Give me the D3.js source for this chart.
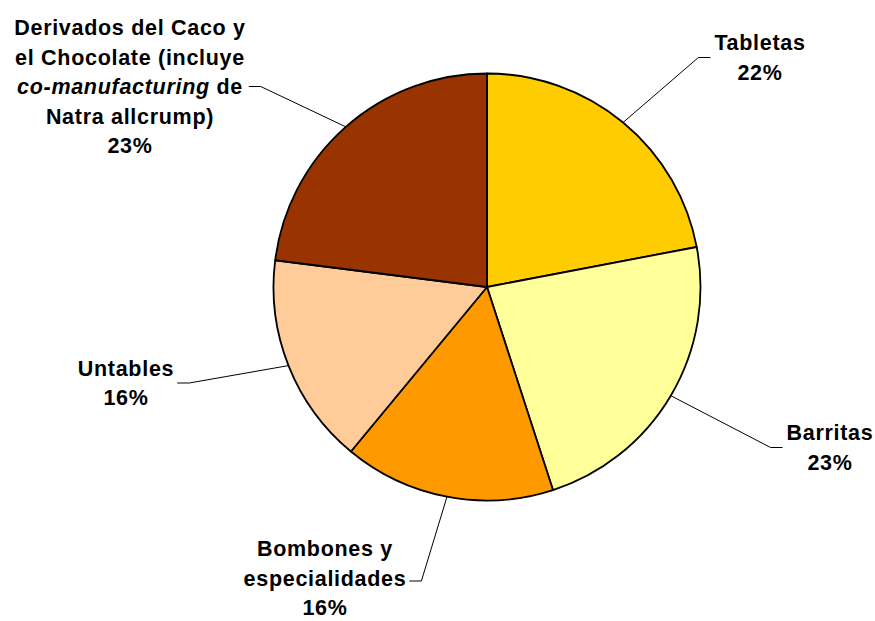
<!DOCTYPE html>
<html>
<head>
<meta charset="utf-8">
<script src="https://cdn.jsdelivr.net/npm/d3@7"></script>
<style>
  body { margin: 0; background: #fff; }
  svg { display: block; }
  text { font-family: "Liberation Sans", Arial, sans-serif; font-weight: bold; fill: #000; }
</style>
</head>
<body>
<svg id="chart" width="875" height="621"></svg>
<script>
// Sales mix by product line (%)
const categories = [
  "Tabletas",
  "Barritas",
  "Bombones y especialidades",
  "Untables",
  "Derivados del Caco y el Chocolate (incluye co-manufacturing de Natra allcrump)"
];
const shares = [22, 23, 16, 16, 23];

// Label text broken into lines; *...* marks italic runs
const labelLines = [
  ["Tabletas"],
  ["Barritas"],
  ["Bombones y", "especialidades"],
  ["Untables"],
  ["Derivados del Caco y", "el Chocolate (incluye", "*co-manufacturing* de", "Natra allcrump)"]
];

const sliceColors = ["#FFCC00", "#FFFF99", "#FF9900", "#FFCC99", "#993300"];

// Centre of each label block
const labelAnchors = [[760, 57.5], [830, 447.5], [325, 578], [126, 383], [130, 86.5]];

const cx = 487, cy = 287, radius = 213.5;
const fontSize = 21.5, lineHeight = 29.5, letterSpacing = 0.7;
const capMid = fontSize * 0.716 / 2;

const svg = d3.select("#chart");
const g = svg.append("g").attr("transform", `translate(${cx},${cy})`);

const pie = d3.pie().sort(null).value(d => d.value).startAngle(0).endAngle(2 * Math.PI);
const arcs = pie(categories.map((c, i) => ({ name: c, value: shares[i], i })));

const arc = d3.arc().innerRadius(0).outerRadius(radius);
const edgeArc = d3.arc().innerRadius(radius).outerRadius(radius);

g.selectAll("path.slice")
  .data(arcs)
  .join("path")
  .attr("class", "slice")
  .attr("d", arc)
  .attr("fill", d => sliceColors[d.data.i])
  .attr("stroke", "#000")
  .attr("stroke-width", 1.8)
  .attr("stroke-linejoin", "round");

// Labels
const labels = svg.append("g");
arcs.forEach(d => {
  const i = d.data.i;
  const lines = labelLines[i].concat([`${shares[i]}%`]);
  const [ax, ay] = labelAnchors[i];
  const n = lines.length;
  const t = labels.append("text")
    .attr("text-anchor", "middle")
    .attr("font-size", fontSize)
    .attr("letter-spacing", letterSpacing);
  lines.forEach((line, k) => {
    const y = ay - (n - 1) / 2 * lineHeight + k * lineHeight + capMid;
    const parts = line.split("*");
    let first = true;
    parts.forEach((part, p) => {
      if (part === "") return;
      const ts = t.append("tspan").text(part);
      if (first) { ts.attr("x", ax).attr("y", y); first = false; }
      if (p % 2 === 1) ts.attr("font-style", "italic");
    });
  });

  // Leader line: slice edge -> elbow -> label block side
  const bb = t.node().getBBox();
  const [sx, sy] = edgeArc.centroid(d);
  const start = [cx + sx, cy + sy];
  const onRight = ax > start[0];
  const endX = onRight ? bb.x - 4 : bb.x + bb.width + 3;
  const elbowX = onRight ? endX - 12 : endX + 12;
  const ly = ay + (n === 3 ? 3 : 0);
  svg.insert("path", ":first-child")
    .attr("d", d3.line()([start, [elbowX, ly], [endX, ly]]))
    .attr("fill", "none")
    .attr("stroke", "#000")
    .attr("stroke-width", 1);
});
</script>
</body>
</html>
